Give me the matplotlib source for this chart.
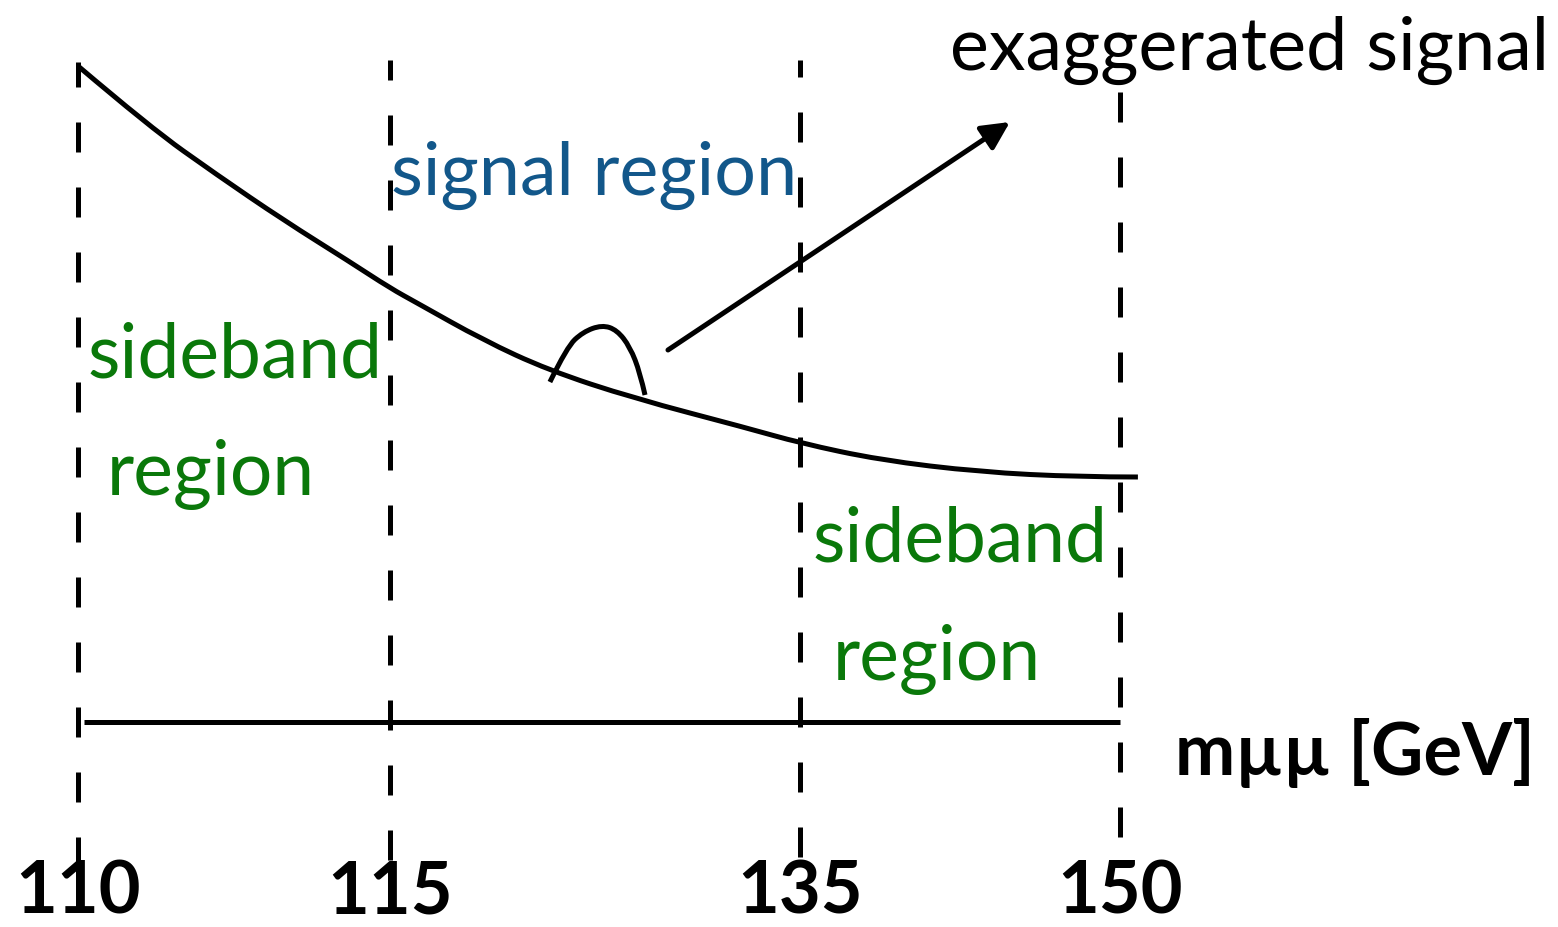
import numpy as np
import matplotlib.pyplot as plt
from matplotlib.path import Path
from matplotlib.patches import PathPatch

# region edges in m_mumu [GeV]
mass_edges = [110, 115, 135, 150]
edge_labels = ['110', '115', '135', '150']

# falling background shape (mass, arbitrary height)
bkg_mass = [110.0, 111.15, 112.23, 113.29, 114.36, 115.0, 116.32, 119.54,
            122.71, 126.85, 132.41, 135.0, 138.75, 143.44, 148.13, 150.84]
bkg_height = [656, 595, 547, 502, 460, 434, 419, 382,
              352, 324, 294, 279, 262, 250, 245, 245]

# exaggerated signal bump
sig_mass = [122.80, 123.63, 124.41, 125.34, 126.07, 126.71, 127.20, 127.44]
sig_height = [340, 375, 390, 397, 392, 375, 349, 327]

# schematic (non-linear) mass axis
knot_mass = [100, 110, 115, 135, 150, 175]
knot_pos = [-546, 78, 390, 800, 1120, 1653]


def fwd(m):
    return np.interp(m, knot_mass, knot_pos)


def inv(p):
    return np.interp(p, knot_pos, knot_mass)


def smooth_path(xs, ys):
    # quadratic bezier through midpoints, read points used as controls
    pts = np.column_stack([xs, ys])
    verts = [pts[0]]
    codes = [Path.MOVETO]
    for i in range(1, len(pts) - 1):
        mid = (pts[i] + pts[i + 1]) / 2
        if i == len(pts) - 2:
            mid = pts[i + 1]
        verts += [pts[i], mid]
        codes += [Path.CURVE3, Path.CURVE3]
    return Path(verts, codes)


font = ['Lato', 'DejaVu Sans']
green = '#0a780a'
blue = '#12578a'
lw = 3.6

fig = plt.figure(figsize=(15.58, 9.27), dpi=100)
ax = fig.add_axes([0, 0, 1, 1])
ax.set_xscale('function', functions=(fwd, inv))
ax.set_xlim(inv(0), inv(1558))
ax.set_ylim(-205, 722)
ax.axis('off')

# dashed region boundaries
tops = [660, 662, 662, 637]
bottoms = [-145, -138, -135, -115]
for m, t, b in zip(mass_edges, tops, bottoms):
    ax.plot([m, m], [b, t], color='black', lw=lw, dashes=(6, 7),
            solid_capstyle='butt', dash_capstyle='butt')

# mass axis line
ax.plot([110.1, 150], [0, 0], color='black', lw=lw, solid_capstyle='butt')

ax.add_patch(PathPatch(smooth_path(bkg_mass, bkg_height), fill=False,
                       edgecolor='black', lw=lw))
ax.add_patch(PathPatch(smooth_path(sig_mass, sig_height), fill=False,
                       edgecolor='black', lw=lw))

ax.annotate('', xy=(144.84, 600), xytext=(128.56, 372),
            arrowprops=dict(arrowstyle='-|>', color='black', lw=lw,
                            mutation_scale=42, shrinkA=0, shrinkB=0))

ax.text(142.03, 652, 'exaggerated signal', fontsize=53, family=font,
        ha='left', va='baseline')
ax.text(115.05, 527, 'signal region', fontsize=53, family=font,
        color=blue, ha='left', va='baseline')
ax.text(110.16, 344, 'sideband', fontsize=54, family=font,
        color=green, ha='left', va='baseline')
ax.text(110.46, 227, 'region', fontsize=54, family=font,
        color=green, ha='left', va='baseline')
ax.text(135.61, 160, 'sideband', fontsize=54, family=font,
        color=green, ha='left', va='baseline')
ax.text(136.55, 42, 'region', fontsize=54, family=font,
        color=green, ha='left', va='baseline')

ax.text(152.58, -53, 'mµµ [GeV]', fontsize=52, family=font,
        fontweight='bold', ha='left', va='baseline')

for m, lab in zip(mass_edges, edge_labels):
    ax.text(m, -192, lab, fontsize=52, family=font, fontweight='bold',
            ha='center', va='baseline')

fig.savefig('out.png', dpi=100)
